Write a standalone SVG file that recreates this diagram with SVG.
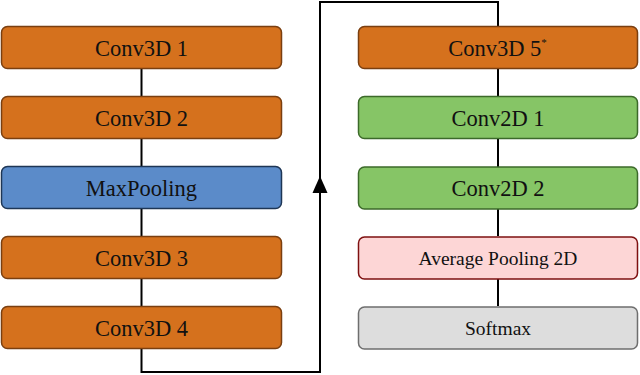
<svg xmlns="http://www.w3.org/2000/svg" width="640" height="375" viewBox="0 0 640 375">
<style>
.box{stroke-width:1.5}
.orange{fill:#D5711D;stroke:#7A3F10}
.blue{fill:#5B8BC9;stroke:#1E3655}
.green{fill:#86C566;stroke:#3C6A2A}
.pink{fill:#FDD6D6;stroke:#7E1010}
.grey{fill:#DDDDDD;stroke:#6E6E6E}
.lbl{font-family:"Liberation Serif","Times New Roman",serif;font-size:22.5px;fill:#111;text-anchor:middle}
.sm{font-size:19.5px}
.conn{fill:none;stroke:#000;stroke-width:2}
</style>
<defs>
<marker id="arr" markerWidth="16" markerHeight="16" viewBox="0 0 16 16" refX="8" refY="0" orient="auto-start-reverse" markerUnits="userSpaceOnUse">
<path d="M0,0 L16,8 L0,16 Z" fill="#000"/>
</marker>
</defs>
<g id="connectors">
<line class="conn" x1="141.5" y1="68" x2="141.5" y2="96"/>
<line class="conn" x1="141.5" y1="138" x2="141.5" y2="166"/>
<line class="conn" x1="141.5" y1="208" x2="141.5" y2="236"/>
<line class="conn" x1="141.5" y1="278" x2="141.5" y2="306"/>
<path class="conn" d="M141.5,348 V372 H320 V2 H498 V27"/>
<path d="M320,176 L327.5,193 L312.5,193 Z" fill="#000"/>
<line class="conn" x1="498" y1="68.5" x2="498" y2="96"/>
<line class="conn" x1="498" y1="138" x2="498" y2="167"/>
<line class="conn" x1="498" y1="209" x2="498" y2="236"/>
<line class="conn" x1="498" y1="279" x2="498" y2="306"/>
</g>
<g id="conv3d1"><rect class="box orange" x="1.5" y="26.5" width="280" height="42" rx="6"/><text class="lbl" x="141.5" y="55.5">Conv3D 1</text></g>
<g id="conv3d2"><rect class="box orange" x="1.5" y="96.5" width="280" height="42" rx="6"/><text class="lbl" x="141.5" y="125.5">Conv3D 2</text></g>
<g id="maxpool"><rect class="box blue" x="1.5" y="166.5" width="280" height="42" rx="6"/><text class="lbl" x="141.5" y="195.5">MaxPooling</text></g>
<g id="conv3d3"><rect class="box orange" x="1.5" y="236.5" width="280" height="42" rx="6"/><text class="lbl" x="141.5" y="265.5">Conv3D 3</text></g>
<g id="conv3d4"><rect class="box orange" x="1.5" y="306.5" width="280" height="42" rx="6"/><text class="lbl" x="141.5" y="335.5">Conv3D 4</text></g>
<g id="conv3d5"><rect class="box orange" x="358.5" y="26.5" width="279" height="42" rx="6"/><text class="lbl" x="497.5" y="55.5">Conv3D 5<tspan font-size="11" dy="-10">*</tspan></text></g>
<g id="conv2d1"><rect class="box green" x="358.5" y="96.5" width="279" height="42" rx="6"/><text class="lbl" x="498" y="125.5">Conv2D 1</text></g>
<g id="conv2d2"><rect class="box green" x="358.5" y="167" width="279" height="42" rx="6"/><text class="lbl" x="498" y="196">Conv2D 2</text></g>
<g id="avgpool"><rect class="box pink" x="358.5" y="237" width="279" height="42" rx="6"/><text class="lbl sm" x="498" y="265">Average Pooling 2D</text></g>
<g id="softmax"><rect class="box grey" x="358.5" y="307" width="279" height="42" rx="6"/><text class="lbl sm" x="498" y="335">Softmax</text></g>
</svg>
